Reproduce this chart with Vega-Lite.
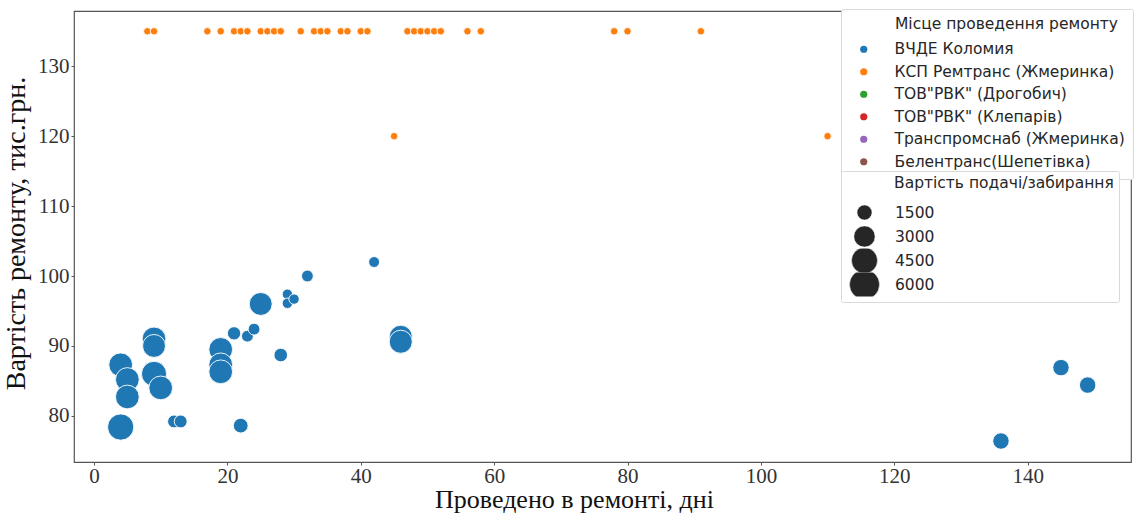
{
  "$schema": "https://vega.github.io/schema/vega-lite/v6.json",
  "width": 1057,
  "height": 451,
  "autosize": {"type": "none"},
  "padding": {"left": 74, "top": 11, "right": 5, "bottom": 51},
  "background": "white",
  "config": {
    "view": {"stroke": "#555555", "strokeWidth": 1.2},
    "axis": {
      "grid": false,
      "domain": false,
      "ticks": true,
      "tickColor": "#555555",
      "tickSize": 3,
      "labelFont": "Liberation Serif",
      "labelFontSize": 21,
      "labelColor": "#333333",
      "titleFont": "Liberation Serif",
      "titleFontWeight": "normal",
      "titleColor": "#111111"
    },
    "legend": {
      "titleFont": "DejaVu Sans",
      "titleFontSize": 15.5,
      "titleFontWeight": "normal",
      "titleColor": "#262626",
      "titleLimit": 400,
      "labelFont": "DejaVu Sans",
      "labelFontSize": 15.5,
      "labelColor": "#262626",
      "labelLimit": 400,
      "fillColor": "white",
      "strokeColor": "#d9d9d9",
      "cornerRadius": 2
    }
  },
  "data": {
    "values": [
      {"days": 4, "cost": 78.4, "delivery": 4600, "place": "ВЧДЕ Коломия"},
      {"days": 4, "cost": 87.3, "delivery": 3750, "place": "ВЧДЕ Коломия"},
      {"days": 5, "cost": 85.2, "delivery": 3750, "place": "ВЧДЕ Коломия"},
      {"days": 5, "cost": 82.7, "delivery": 3750, "place": "ВЧДЕ Коломия"},
      {"days": 9, "cost": 91.0, "delivery": 3750, "place": "ВЧДЕ Коломия"},
      {"days": 9, "cost": 90.0, "delivery": 3500, "place": "ВЧДЕ Коломия"},
      {"days": 9, "cost": 86.0, "delivery": 4200, "place": "ВЧДЕ Коломия"},
      {"days": 10, "cost": 84.0, "delivery": 3750, "place": "ВЧДЕ Коломия"},
      {"days": 12, "cost": 79.2, "delivery": 1100, "place": "ВЧДЕ Коломия"},
      {"days": 13, "cost": 79.2, "delivery": 1100, "place": "ВЧДЕ Коломия"},
      {"days": 19, "cost": 89.5, "delivery": 3750, "place": "ВЧДЕ Коломия"},
      {"days": 19, "cost": 87.3, "delivery": 3750, "place": "ВЧДЕ Коломия"},
      {"days": 19, "cost": 86.3, "delivery": 3750, "place": "ВЧДЕ Коломия"},
      {"days": 21, "cost": 91.8, "delivery": 1180, "place": "ВЧДЕ Коломия"},
      {"days": 22, "cost": 78.6, "delivery": 1450, "place": "ВЧДЕ Коломия"},
      {"days": 23, "cost": 91.4, "delivery": 930, "place": "ВЧДЕ Коломия"},
      {"days": 24, "cost": 92.4, "delivery": 930, "place": "ВЧДЕ Коломия"},
      {"days": 25, "cost": 96.0, "delivery": 3500, "place": "ВЧДЕ Коломия"},
      {"days": 28, "cost": 88.7, "delivery": 1230, "place": "ВЧДЕ Коломия"},
      {"days": 29, "cost": 97.4, "delivery": 720, "place": "ВЧДЕ Коломия"},
      {"days": 29, "cost": 96.1, "delivery": 720, "place": "ВЧДЕ Коломия"},
      {"days": 30, "cost": 96.7, "delivery": 720, "place": "ВЧДЕ Коломия"},
      {"days": 32, "cost": 100.0, "delivery": 930, "place": "ВЧДЕ Коломия"},
      {"days": 42, "cost": 102.0, "delivery": 800, "place": "ВЧДЕ Коломия"},
      {"days": 46, "cost": 91.3, "delivery": 3550, "place": "ВЧДЕ Коломия"},
      {"days": 46, "cost": 90.6, "delivery": 3550, "place": "ВЧДЕ Коломия"},
      {"days": 136, "cost": 76.4, "delivery": 1800, "place": "ВЧДЕ Коломия"},
      {"days": 145, "cost": 86.9, "delivery": 1800, "place": "ВЧДЕ Коломия"},
      {"days": 149, "cost": 84.4, "delivery": 1800, "place": "ВЧДЕ Коломия"},
      {"days": 8, "cost": 135, "delivery": 380, "place": "КСП Ремтранс (Жмеринка)"},
      {"days": 9, "cost": 135, "delivery": 380, "place": "КСП Ремтранс (Жмеринка)"},
      {"days": 17, "cost": 135, "delivery": 380, "place": "КСП Ремтранс (Жмеринка)"},
      {"days": 19, "cost": 135, "delivery": 380, "place": "КСП Ремтранс (Жмеринка)"},
      {"days": 21, "cost": 135, "delivery": 380, "place": "КСП Ремтранс (Жмеринка)"},
      {"days": 22, "cost": 135, "delivery": 380, "place": "КСП Ремтранс (Жмеринка)"},
      {"days": 23, "cost": 135, "delivery": 380, "place": "КСП Ремтранс (Жмеринка)"},
      {"days": 25, "cost": 135, "delivery": 380, "place": "КСП Ремтранс (Жмеринка)"},
      {"days": 26, "cost": 135, "delivery": 380, "place": "КСП Ремтранс (Жмеринка)"},
      {"days": 27, "cost": 135, "delivery": 380, "place": "КСП Ремтранс (Жмеринка)"},
      {"days": 28, "cost": 135, "delivery": 380, "place": "КСП Ремтранс (Жмеринка)"},
      {"days": 31, "cost": 135, "delivery": 380, "place": "КСП Ремтранс (Жмеринка)"},
      {"days": 33, "cost": 135, "delivery": 380, "place": "КСП Ремтранс (Жмеринка)"},
      {"days": 34, "cost": 135, "delivery": 380, "place": "КСП Ремтранс (Жмеринка)"},
      {"days": 35, "cost": 135, "delivery": 380, "place": "КСП Ремтранс (Жмеринка)"},
      {"days": 37, "cost": 135, "delivery": 380, "place": "КСП Ремтранс (Жмеринка)"},
      {"days": 38, "cost": 135, "delivery": 380, "place": "КСП Ремтранс (Жмеринка)"},
      {"days": 40, "cost": 135, "delivery": 380, "place": "КСП Ремтранс (Жмеринка)"},
      {"days": 41, "cost": 135, "delivery": 380, "place": "КСП Ремтранс (Жмеринка)"},
      {"days": 47, "cost": 135, "delivery": 380, "place": "КСП Ремтранс (Жмеринка)"},
      {"days": 48, "cost": 135, "delivery": 380, "place": "КСП Ремтранс (Жмеринка)"},
      {"days": 49, "cost": 135, "delivery": 380, "place": "КСП Ремтранс (Жмеринка)"},
      {"days": 50, "cost": 135, "delivery": 380, "place": "КСП Ремтранс (Жмеринка)"},
      {"days": 51, "cost": 135, "delivery": 380, "place": "КСП Ремтранс (Жмеринка)"},
      {"days": 52, "cost": 135, "delivery": 380, "place": "КСП Ремтранс (Жмеринка)"},
      {"days": 56, "cost": 135, "delivery": 380, "place": "КСП Ремтранс (Жмеринка)"},
      {"days": 58, "cost": 135, "delivery": 380, "place": "КСП Ремтранс (Жмеринка)"},
      {"days": 78, "cost": 135, "delivery": 380, "place": "КСП Ремтранс (Жмеринка)"},
      {"days": 80, "cost": 135, "delivery": 380, "place": "КСП Ремтранс (Жмеринка)"},
      {"days": 91, "cost": 135, "delivery": 380, "place": "КСП Ремтранс (Жмеринка)"},
      {"days": 45, "cost": 120, "delivery": 380, "place": "КСП Ремтранс (Жмеринка)"},
      {"days": 110, "cost": 120, "delivery": 380, "place": "КСП Ремтранс (Жмеринка)"}
    ]
  },
  "mark": {"type": "point", "shape": "circle", "filled": true, "opacity": 1, "stroke": "white", "strokeWidth": 0.9},
  "encoding": {
    "x": {
      "field": "days",
      "type": "quantitative",
      "scale": {"domain": [-3, 155.5], "nice": false, "zero": false},
      "axis": {"values": [0, 20, 40, 60, 80, 100, 120, 140], "title": "Проведено в ремонті, дні", "titleFontSize": 26, "titleX": 500, "titlePadding": 0, "labelPadding": 0}
    },
    "y": {
      "field": "cost",
      "type": "quantitative",
      "scale": {"domain": [73.4, 137.9], "nice": false, "zero": false},
      "axis": {"values": [80, 90, 100, 110, 120, 130], "title": "Вартість ремонту, тис.грн.", "titleFontSize": 28, "titleY": 222, "titlePadding": 7, "labelPadding": 2}
    },
    "color": {
      "field": "place",
      "type": "nominal",
      "scale": {
        "domain": ["ВЧДЕ Коломия", "КСП Ремтранс (Жмеринка)", "ТОВ\"РВК\" (Дрогобич)", "ТОВ\"РВК\" (Клепарів)", "Транспромснаб (Жмеринка)", "Белентранс(Шепетівка)"],
        "range": ["#1f77b4", "#ff7f0e", "#2ca02c", "#d62728", "#9467bd", "#8c564b"]
      },
      "legend": {
        "title": "Місце проведення ремонту",
        "orient": "none",
        "legendX": 767,
        "legendY": -2,
        "padding": 8,
        "symbolType": "circle",
        "symbolSize": 52,
        "symbolStrokeWidth": 0,
        "symbolOffset": 7,
        "labelOffset": 23,
        "rowPadding": 5.5,
        "titlePadding": 9,
        "encoding": {"title": {"dx": {"value": 46}}}
      }
    },
    "size": {
      "field": "delivery",
      "type": "quantitative",
      "scale": {"domain": [0, 6000], "range": [0, 900], "zero": true},
      "legend": {
        "title": "Вартість подачі/забирання",
        "orient": "none",
        "legendX": 767,
        "legendY": 160,
        "padding": 5,
        "values": [1500, 3000, 4500, 6000],
        "format": "d",
        "symbolType": "circle",
        "symbolFillColor": "#262626",
        "symbolStrokeColor": "white",
        "symbolStrokeWidth": 0.5,
        "symbolOffset": 3,
        "clipHeight": 24,
        "rowPadding": 0,
        "titlePadding": 9,
        "labelOffset": 15,
        "encoding": {"title": {"dx": {"value": 48}}}
      }
    }
  }
}
